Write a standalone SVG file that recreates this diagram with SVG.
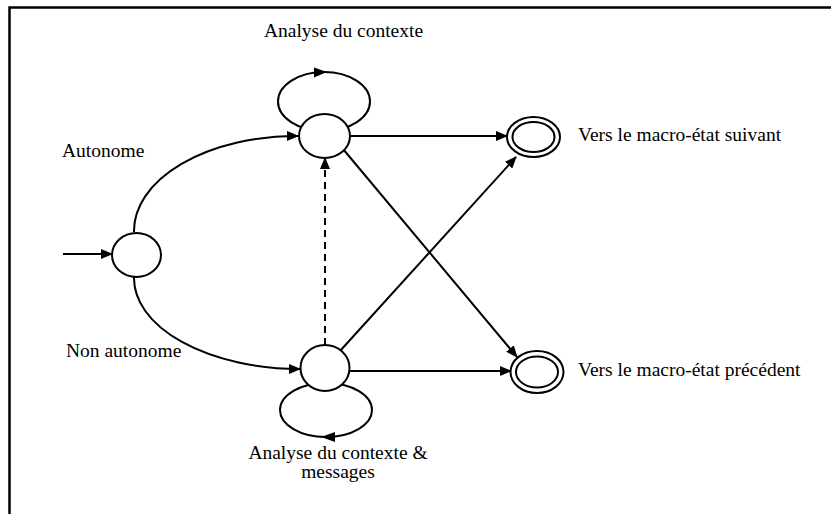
<svg xmlns="http://www.w3.org/2000/svg" width="831" height="514" viewBox="0 0 831 514">
<defs>
<marker id="arr" markerWidth="12" markerHeight="10" refX="11" refY="5" orient="auto" markerUnits="userSpaceOnUse">
<path d="M0,0 L12,5 L0,10 Z" fill="#000"/>
</marker>
<style>
.st{fill:#fff;stroke:#000;stroke-width:2}
.ln{fill:none;stroke:#000;stroke-width:2}
.lb{font-family:"Liberation Serif","Times New Roman",serif;font-size:19.5px;fill:#000}
</style>
</defs>
<rect width="831" height="514" fill="#fff"/>
<path d="M9.5,520 L9.5,7.5 L840,7.5" fill="none" stroke="#000" stroke-width="2.5"/>
<g id="connectors">
<line class="ln" x1="63" y1="254" x2="112" y2="254" marker-end="url(#arr)"/>
<path class="ln" d="M134,232 A163,95 0 0 1 298,136" marker-end="url(#arr)"/>
<path class="ln" d="M134,277 A166,91 0 0 0 300,369" marker-end="url(#arr)"/>
<ellipse class="ln" cx="324" cy="101.5" rx="46" ry="29.5"/>
<path d="M314,67.5 L327,72 L314,77.5 Z" fill="#000"/>
<ellipse class="ln" cx="326" cy="410" rx="46" ry="27"/>
<path d="M335,432 L321,437 L335,442 Z" fill="#000"/>
<line class="ln" x1="350" y1="136" x2="507" y2="136" marker-end="url(#arr)"/>
<line class="ln" x1="350" y1="371" x2="511" y2="371" marker-end="url(#arr)"/>
<line class="ln" x1="343" y1="149" x2="517" y2="357" marker-end="url(#arr)"/>
<line class="ln" x1="340" y1="351" x2="516" y2="157" marker-end="url(#arr)"/>
<line class="ln" x1="325" y1="345" x2="325" y2="158" stroke-dasharray="7,5" marker-end="url(#arr)"/>
</g>
<g id="start"><ellipse class="st" cx="136.5" cy="255" rx="24.5" ry="22"/></g>
<g id="analyse"><ellipse class="st" cx="324.5" cy="136" rx="25.5" ry="22"/></g>
<g id="analyse-msg"><ellipse class="st" cx="325" cy="368" rx="24.5" ry="23"/></g>
<g id="suivant"><ellipse class="st" cx="533.5" cy="137" rx="26.5" ry="20"/><ellipse class="st" cx="533.5" cy="137" rx="21" ry="15"/></g>
<g id="precedent"><ellipse class="st" cx="537" cy="372" rx="26.5" ry="21"/><ellipse class="st" cx="537" cy="372" rx="21" ry="15.5"/></g>
<g id="labels">
<text class="lb" x="343.5" y="37" text-anchor="middle">Analyse du contexte</text>
<text class="lb" x="62" y="157">Autonome</text>
<text class="lb" x="66" y="357">Non autonome</text>
<text class="lb" x="578" y="141">Vers le macro-état suivant</text>
<text class="lb" x="578" y="376">Vers le macro-état précédent</text>
<text class="lb" x="338" y="459" text-anchor="middle">Analyse du contexte &amp;</text>
<text class="lb" x="338" y="478" text-anchor="middle">messages</text>
</g>
</svg>
